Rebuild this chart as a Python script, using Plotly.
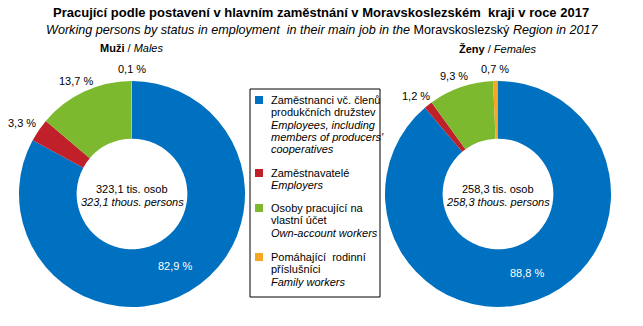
import math
import plotly.graph_objects as go

# Categories (Czech / English), one list of lines per category
categories_cz = [["Zaměstnanci vč. členů", "produkčních družstev"],
                 ["Zaměstnavatelé"],
                 ["Osoby pracující na", "vlastní účet"],
                 ["Pomáhající  rodinní", "příslušníci"]]
categories_en = [["Employees, including", "members of producers'", "cooperatives"],
                 ["Employers"],
                 ["Own-account workers"],
                 ["Family workers"]]
colors = ["#0070C0", "#C0202A", "#7DB92F", "#F5A623"]

# Shares in %
males_pct = [82.9, 3.3, 13.7, 0.1]
females_pct = [88.8, 1.2, 9.3, 0.7]
males_total = 323.1
females_total = 258.3

FONT = "Liberation Sans, Arial, sans-serif"
W, H = 643, 326

def cz(v):
    return f"{v:.1f}".replace(".", ",")

fig = go.Figure()
annotations = []

def ann(text, x, y, size=11, xanchor="center", color="black"):
    annotations.append(dict(text=text, x=x / W, y=1 - y / H, xref="paper", yref="paper",
                            showarrow=False, xanchor=xanchor, yanchor="middle",
                            font=dict(family=FONT, size=size, color=color)))

def add_pie(values, cx, cy, r, total):
    fig.add_trace(go.Pie(
        labels=[" ".join(c) for c in categories_cz],
        values=values,
        hole=0.49,
        sort=False,
        direction="clockwise",
        rotation=0,
        marker=dict(colors=colors, line=dict(width=0)),
        textinfo="none",
        domain=dict(x=[(cx - r) / W, (cx + r) / W], y=[1 - (cy + r) / H, 1 - (cy - r) / H]),
        showlegend=False,
        hoverinfo="label+value",
    ))
    # percentage labels placed from each slice's mid angle
    tot = sum(values)
    cum = 0.0
    for i, v in enumerate(values):
        mid = (cum + v / 2) / tot * 2 * math.pi
        cum += v
        s, c = math.sin(mid), math.cos(mid)
        if i == 0:
            rr = r * 0.745
            ann(cz(v) + " %", cx + rr * s, cy - rr * c, color="white")
        else:
            rr = r + 6
            px, py = cx + rr * s, cy - rr * c
            ann(cz(v) + " %", px + 14 * s, py - 6 * c)
    # total in the hole
    ann(f"{cz(total)} tis. osob", cx, cy - 5)
    ann(f"<i>{cz(total)} thous. persons</i>", cx, cy + 8)

add_pie(males_pct, 132, 194, 113, males_total)
add_pie(females_pct, 498, 194, 113, females_total)

# titles
ann("<b>Pracující podle postavení v hlavním zaměstnání v Moravskoslezském  kraji v roce 2017</b>",
    321, 13, size=13)
ann("<i>Working persons by status in employment  in their main job in the</i> Moravskoslezský <i>Region in 2017</i>",
    322, 30, size=12.6)
ann("<b>Muži</b> / <i>Males</i>", 131, 48)
ann("<b>Ženy</b> / <i>Females</i>", 498, 49)

# legend box
shapes = [dict(type="rect", xref="paper", yref="paper",
               x0=250 / W, x1=380 / W, y0=1 - 297 / H, y1=1 - 89 / H,
               line=dict(color="black", width=1), fillcolor="rgba(0,0,0,0)")]
item_y = [100, 173, 208, 257]
line_h = 12.3
for col, lines_cz, lines_en, y0 in zip(colors, categories_cz, categories_en, item_y):
    shapes.append(dict(type="rect", xref="paper", yref="paper",
                       x0=255 / W, x1=263 / W, y0=1 - (y0 + 4) / H, y1=1 - (y0 - 4) / H,
                       line=dict(width=0), fillcolor=col))
    y = y0
    for t in lines_cz:
        ann(t, 269, y, xanchor="left")
        y += line_h
    for t in lines_en:
        ann(f"<i>{t}</i>", 269, y, xanchor="left")
        y += line_h

fig.update_layout(
    width=W, height=H,
    margin=dict(l=0, r=0, t=0, b=0),
    paper_bgcolor="white",
    font=dict(family=FONT, size=11, color="black"),
    annotations=annotations,
    shapes=shapes,
)

fig.write_html("out.html")
